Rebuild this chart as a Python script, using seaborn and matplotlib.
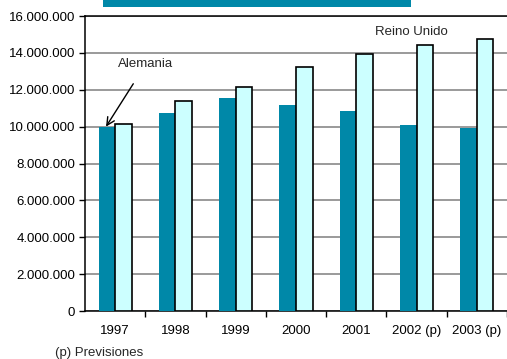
import matplotlib
matplotlib.use("Agg")
import matplotlib.pyplot as plt
from matplotlib.patches import Rectangle
from matplotlib.ticker import FuncFormatter, MultipleLocator, FixedLocator
import seaborn as sns
import pandas as pd

# Datos
years = ["1997", "1998", "1999", "2000", "2001", "2002 (p)", "2003 (p)"]
alemania = [10000000, 10750000, 11550000, 11190000, 10850000, 10090000, 9950000]
reino_unido = [10140000, 11370000, 12160000, 13250000, 13940000, 14430000, 14750000]
series_names = ["Alemania", "Reino Unido"]

df = pd.DataFrame({
    "year": years * 2,
    "value": alemania + reino_unido,
    "country": [series_names[0]] * len(years) + [series_names[1]] * len(years),
})

sns.set_style("white")
plt.rcParams["font.family"] = ["Liberation Sans", "DejaVu Sans"]

fig = plt.figure(figsize=(5.07, 3.59), dpi=100)
ax = fig.add_axes([85 / 507, 48 / 359, 1 - 85 / 507, 295 / 359])

teal = "#0088A8"
cyan = "#CCFFFF"

sns.barplot(data=df, x="year", y="value", hue="country", order=years,
            hue_order=series_names, palette=[teal, cyan], width=0.55,
            saturation=1, dodge=True, legend=False, ax=ax, zorder=3,
            errorbar=None)

# Borde negro sólo en las barras de Reino Unido
n = len(years)
for i, p in enumerate(ax.patches[:2 * n]):
    if i < n:
        p.set_edgecolor("none")
        p.set_linewidth(0)
    else:
        p.set_edgecolor("black")
        p.set_linewidth(1.2)

ax.set_xlim(-0.5, n - 0.5)
ax.set_ylim(0, 16000000)
ax.yaxis.set_major_locator(MultipleLocator(2000000))
ax.yaxis.set_major_formatter(
    FuncFormatter(lambda v, _: f"{int(v):,}".replace(",", ".")))
ax.grid(axis="y", color="#7f7f7f", linewidth=1.1, zorder=0)
ax.set_axisbelow(True)

ax.set_xlabel("")
ax.set_ylabel("")
ax.xaxis.set_minor_locator(FixedLocator([i + 0.5 for i in range(n)]))
ax.tick_params(axis="x", which="major", length=0, pad=10, labelsize=9.5,
               colors="black")
ax.tick_params(axis="x", which="minor", length=4, width=1, direction="out",
               color="black", bottom=True)
ax.tick_params(axis="y", length=4, width=1, direction="out", left=True,
               pad=3, labelsize=9.5, colors="black")

for side in ["left", "bottom", "top"]:
    ax.spines[side].set_visible(True)
    ax.spines[side].set_color("black")
    ax.spines[side].set_linewidth(1.1)
ax.spines["right"].set_visible(False)

# Etiquetas de series
x_ale = ax.patches[0].get_x() + ax.patches[0].get_width() * 0.45
ax.annotate("Alemania", xy=(x_ale, alemania[0]), xytext=(0.51, 13400000),
            fontsize=9.5, ha="center", va="center",
            arrowprops=dict(arrowstyle="->", color="black", lw=1,
                            shrinkA=9, shrinkB=0, mutation_scale=14))
ax.text(4.92, 15150000, "Reino Unido", fontsize=9.5, ha="center", va="center")

fig.text(55 / 507, 1 - 353 / 359, "(p) Previsiones", fontsize=9.5,
         ha="left", va="center")

# Banda de título
fig.patches.append(Rectangle((103 / 507, 1 - 7 / 359), 308 / 507, 7 / 359,
                             transform=fig.transFigure, facecolor=teal,
                             edgecolor="none"))

fig.savefig("out.png", dpi=100)
